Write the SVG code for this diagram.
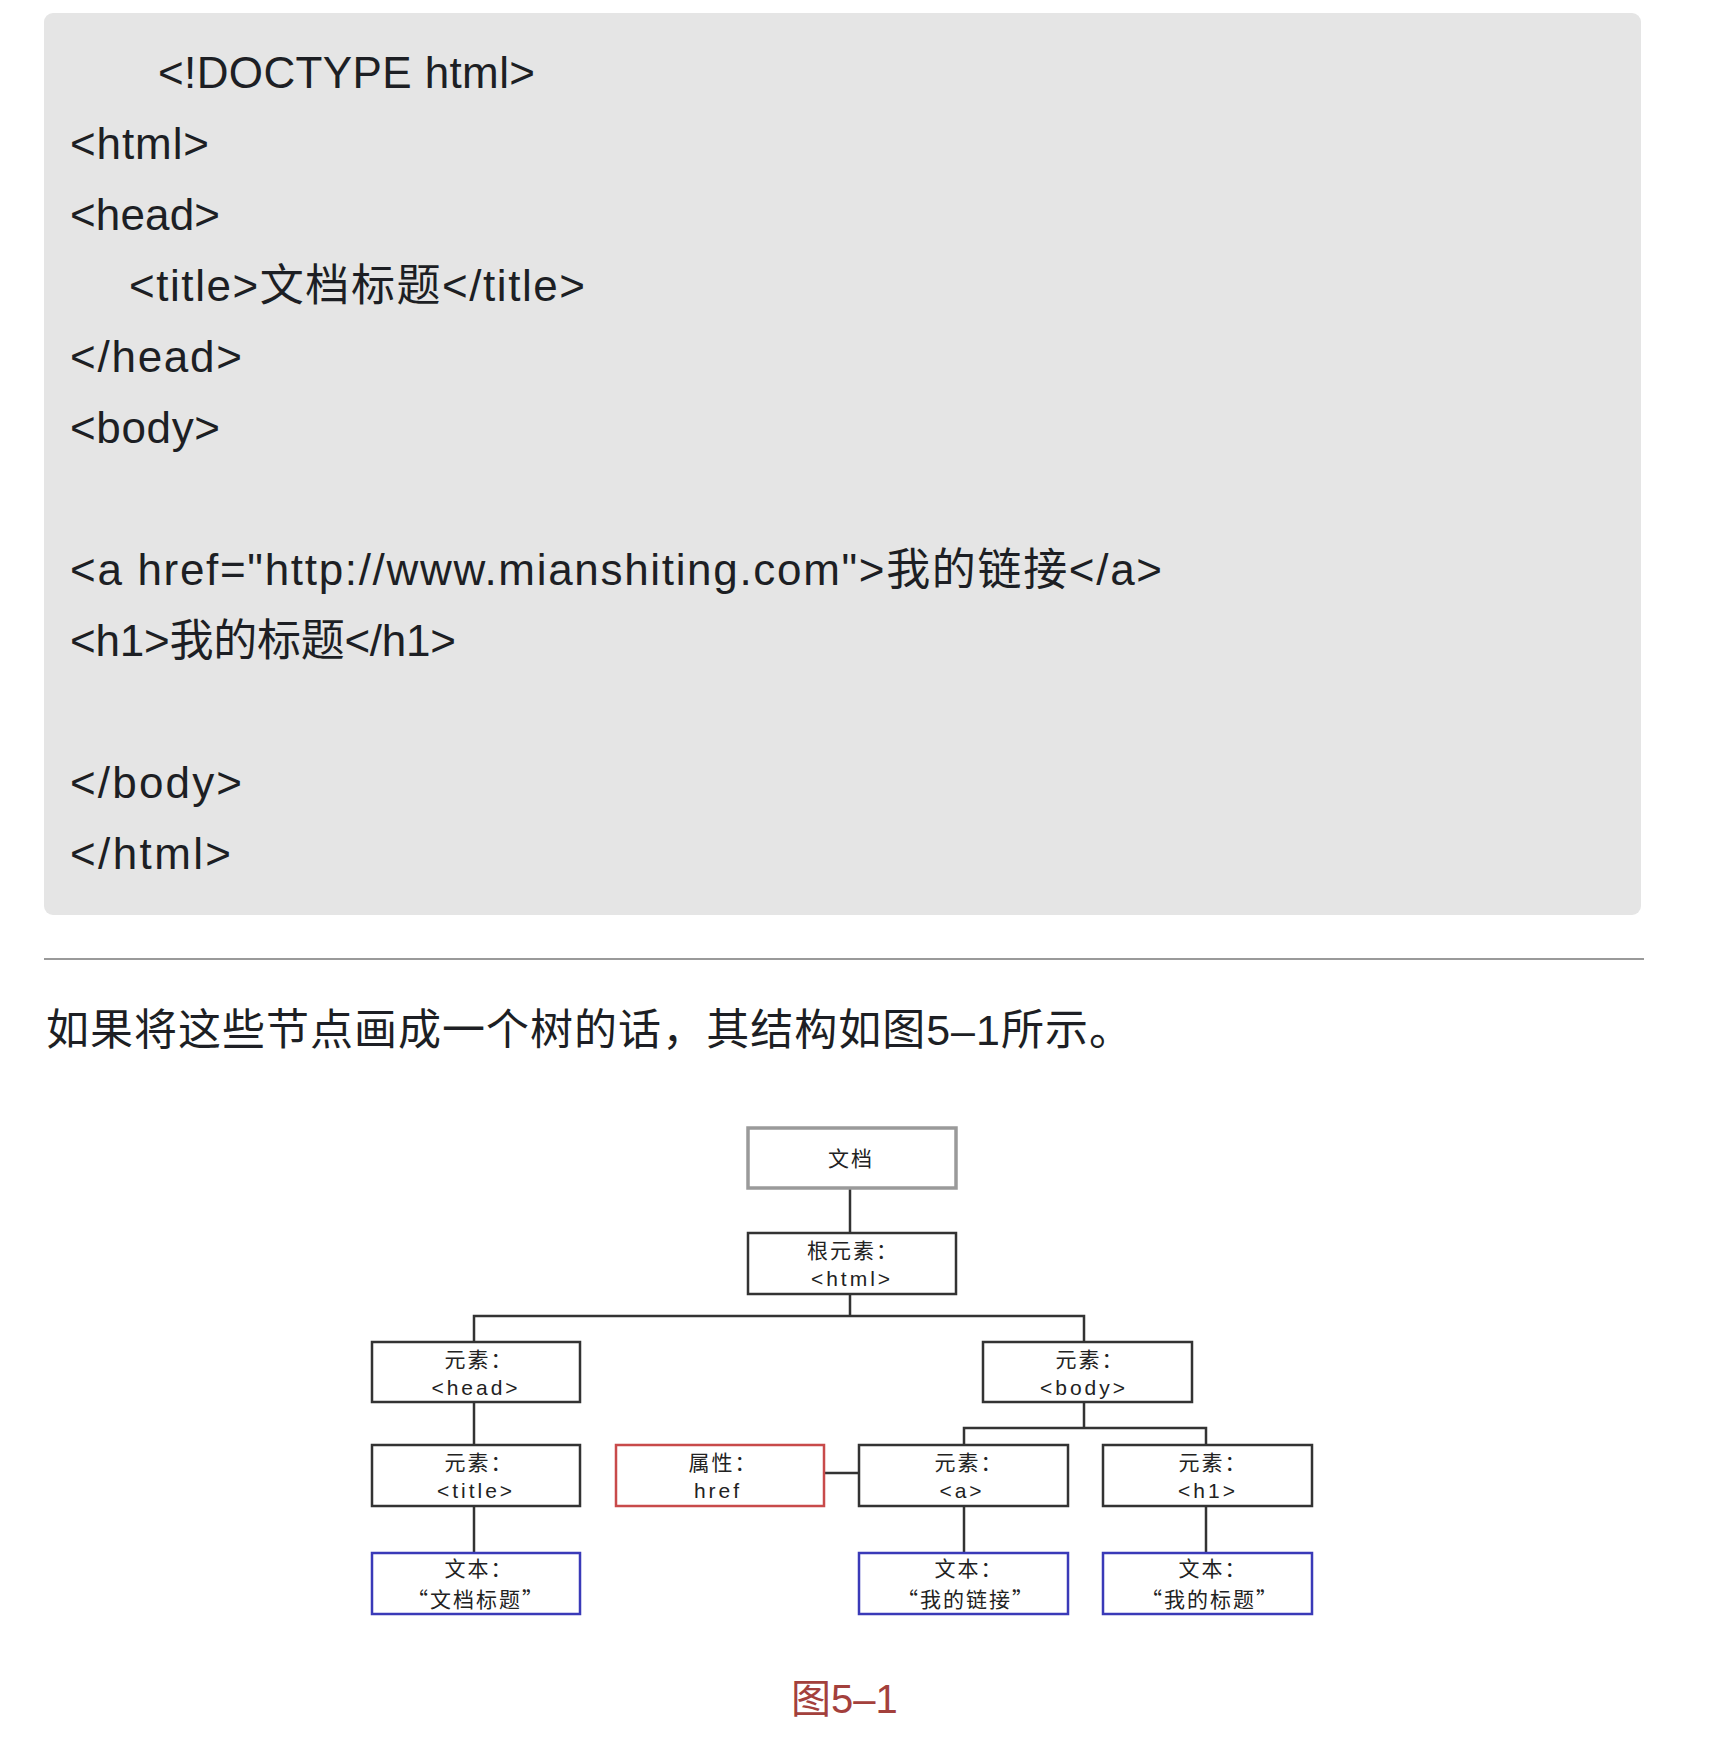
<svg xmlns="http://www.w3.org/2000/svg" width="1736" height="1740" viewBox="0 0 1736 1740">
<style>
.code{font-family:"Liberation Sans","Noto Sans CJK SC",sans-serif;font-size:44px;fill:#1d1f24}
.para{font-family:"Liberation Sans","Noto Sans CJK SC",sans-serif;font-size:43px;fill:#1d1f24}
.cap{font-family:"Liberation Sans","Noto Sans CJK SC",sans-serif;font-size:40px;fill:#a3403c}
.box{fill:#fff;stroke:#333;stroke-width:2.5}
.doc{fill:#fff;stroke:#9a9a9a;stroke-width:3.5}
.attr{fill:#fff;stroke:#c84a4a;stroke-width:2.5}
.txt{fill:#fff;stroke:#3a3ab8;stroke-width:2.5}
.lbl{font-family:"Noto Sans CJK SC",sans-serif;font-size:21px;fill:#222;text-anchor:middle;letter-spacing:2px}
.lat{font-family:"Liberation Sans","DejaVu Sans",sans-serif;font-size:21px;fill:#222;text-anchor:middle;letter-spacing:3px}
.conn{fill:none;stroke:#333;stroke-width:2.5}
</style>
<rect x="0" y="0" width="1736" height="1740" fill="#fff"/>
<g id="codeblock">
<rect x="44" y="13" width="1597" height="902" rx="9" fill="#e5e5e5"/>
<text class="code" x="158" y="88" textLength="377" lengthAdjust="spacing">&lt;!DOCTYPE html&gt;</text>
<text class="code" x="70" y="159" textLength="139" lengthAdjust="spacing">&lt;html&gt;</text>
<text class="code" x="70" y="230" textLength="150" lengthAdjust="spacing">&lt;head&gt;</text>
<text class="code" x="129" y="301" textLength="456" lengthAdjust="spacing">&lt;title&gt;文档标题&lt;/title&gt;</text>
<text class="code" x="70" y="372" textLength="172" lengthAdjust="spacing">&lt;/head&gt;</text>
<text class="code" x="70" y="443" textLength="150" lengthAdjust="spacing">&lt;body&gt;</text>
<text class="code" x="70" y="585" textLength="1092" lengthAdjust="spacing">&lt;a href="http://www.mianshiting.com"&gt;我的链接&lt;/a&gt;</text>
<text class="code" x="70" y="656" textLength="386" lengthAdjust="spacing">&lt;h1&gt;我的标题&lt;/h1&gt;</text>
<text class="code" x="70" y="798" textLength="172" lengthAdjust="spacing">&lt;/body&gt;</text>
<text class="code" x="70" y="869" textLength="161" lengthAdjust="spacing">&lt;/html&gt;</text>
</g>
<line x1="44" y1="959" x2="1644" y2="959" stroke="#9a9a9a" stroke-width="2"/>
<text class="para" x="46" y="1045" textLength="1086" lengthAdjust="spacing">如果将这些节点画成一个树的话，其结构如图5–1所示。</text>
<g id="connectors">
<line class="conn" x1="850" y1="1188" x2="850" y2="1233"/>
<path class="conn" d="M850 1294 V1316 M474 1341 V1316 H1084 V1341"/>
<line class="conn" x1="474" y1="1402" x2="474" y2="1445"/>
<line class="conn" x1="474" y1="1506" x2="474" y2="1553"/>
<path class="conn" d="M1084 1402 V1428 M964 1445 V1428 H1206 V1445"/>
<line class="conn" x1="824" y1="1473" x2="859" y2="1473"/>
<line class="conn" x1="964" y1="1506" x2="964" y2="1553"/>
<line class="conn" x1="1206" y1="1506" x2="1206" y2="1553"/>
</g>
<g id="node-doc"><rect class="doc" x="748" y="1128" width="208" height="60"/><text class="lbl" x="851" y="1166">文档</text></g>
<g id="node-html"><rect class="box" x="748" y="1233" width="208" height="61"/><text class="lbl" x="853" y="1258">根元素：</text><text class="lat" x="852" y="1286">&lt;html&gt;</text></g>
<g id="node-head"><rect class="box" x="372" y="1342" width="208" height="60"/><text class="lbl" x="479" y="1367">元素：</text><text class="lat" x="476" y="1395">&lt;head&gt;</text></g>
<g id="node-body"><rect class="box" x="983" y="1342" width="209" height="60"/><text class="lbl" x="1090" y="1367">元素：</text><text class="lat" x="1084" y="1395">&lt;body&gt;</text></g>
<g id="node-title"><rect class="box" x="372" y="1445" width="208" height="61"/><text class="lbl" x="479" y="1470">元素：</text><text class="lat" x="476" y="1498">&lt;title&gt;</text></g>
<g id="node-href"><rect class="attr" x="616" y="1445" width="208" height="61"/><text class="lbl" x="723" y="1470">属性：</text><text class="lat" x="718" y="1498">href</text></g>
<g id="node-a"><rect class="box" x="859" y="1445" width="209" height="61"/><text class="lbl" x="969" y="1470">元素：</text><text class="lat" x="962" y="1498">&lt;a&gt;</text></g>
<g id="node-h1"><rect class="box" x="1103" y="1445" width="209" height="61"/><text class="lbl" x="1213" y="1470">元素：</text><text class="lat" x="1208" y="1498">&lt;h1&gt;</text></g>
<g id="node-text1"><rect class="txt" x="372" y="1553" width="208" height="61"/><text class="lbl" x="479" y="1576">文本：</text><text class="lbl" x="476" y="1607">“文档标题”</text></g>
<g id="node-text2"><rect class="txt" x="859" y="1553" width="209" height="61"/><text class="lbl" x="969" y="1576">文本：</text><text class="lbl" x="966" y="1607">“我的链接”</text></g>
<g id="node-text3"><rect class="txt" x="1103" y="1553" width="209" height="61"/><text class="lbl" x="1213" y="1576">文本：</text><text class="lbl" x="1210" y="1607">“我的标题”</text></g>
<text class="cap" x="791" y="1713">图5–1</text>
</svg>
